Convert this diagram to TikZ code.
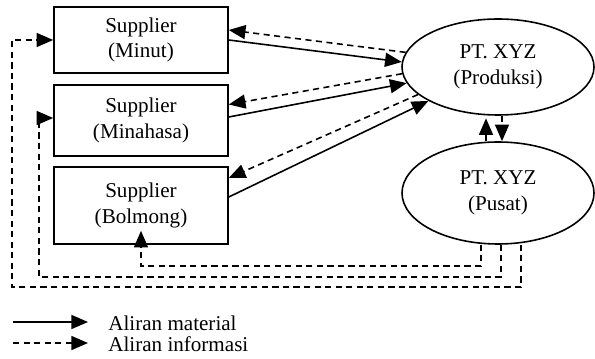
\documentclass[tikz,border=0pt]{standalone}
\usepackage{fontspec}
\setmainfont{Liberation Serif}
\usetikzlibrary{arrows.meta,shapes.geometric}

\begin{document}
\begin{tikzpicture}[
		font=\fontsize{12}{14.5}\selectfont,
		supbox/.style={draw, line width=0.9pt, minimum width=3.48cm, align=center, inner sep=0pt},
		office/.style={draw, ellipse, line width=0.9pt, minimum width=3.84cm, align=center, inner sep=0pt},
		mat/.style={line width=0.9pt, -{Triangle[length=9.5pt,width=8pt]}},
		info/.style={mat, dash pattern=on 3.5pt off 2.5pt}
	]
		\useasboundingbox (0,0) rectangle (11.9,7.16);
		%\draw[help lines] (0,0) grid (12,7);

		\node[supbox, minimum height=1.32cm] (minut) at (2.82,6.36) {Supplier\\(Minut)};
		\node[supbox, minimum height=1.42cm] (minahasa) at (2.82,4.75) {Supplier\\(Minahasa)};
		\node[supbox, minimum height=1.54cm] (bolmong) at (2.82,3.05) {Supplier\\(Bolmong)};

		\node[office, minimum height=1.92cm] (prod) at (9.96,5.82) {PT. XYZ\\(Produksi)};
		\node[office, minimum height=2.04cm] (pusat) at (9.96,3.30) {PT. XYZ\\(Pusat)};

		\draw[mat] (minut.east) -- (prod.177);
		\draw[info] (prod.171) -- ([yshift=0.2cm]minut.east);
		\draw[info] (prod.184) -- ([yshift=0.32cm]minahasa.east);
		\draw[mat] ([yshift=0.07cm]minahasa.east) -- (prod.190);
		\draw[info] (prod.199) -- ([yshift=0.55cm]bolmong.east);
		\draw[mat] ([yshift=0.17cm]bolmong.east) -- (prod.206);

		\draw[info] ([xshift=-0.24cm]pusat.north) -- ([xshift=-0.24cm,yshift=-0.05cm]prod.south);
		\draw[info] ([xshift=0.08cm]prod.south) -- ([xshift=0.08cm]pusat.north);

		\coordinate (bendA) at (2.82,1.84);
		\coordinate (bendB) at (0.78,1.62);
		\coordinate (bendC) at (0.24,1.42);
		\draw[info] ([xshift=-0.34cm]pusat.south) |- (bendA) -- ([yshift=0.28cm]bolmong.south);
		\draw[info] ([xshift=0.06cm]pusat.south) |- (bendB) |- ([yshift=0.05cm]minahasa.west);
		\draw[info] ([xshift=0.46cm]pusat.south) |- (bendC) |- (minut.west);

		\coordinate (matA) at (0.26,0.72);
		\coordinate (matB) at (1.76,0.72);
		\coordinate (infA) at (0.26,0.30);
		\coordinate (infB) at (1.76,0.30);
		\draw[mat] (matA) -- (matB);
		\draw[info] (infA) -- (infB);
		\node[anchor=west, inner sep=0pt] (lmat) at (2.16,0.70) {Aliran material};
		\node[anchor=west, inner sep=0pt] (linf) at (2.16,0.28) {Aliran informasi};
\end{tikzpicture}
\end{document}
